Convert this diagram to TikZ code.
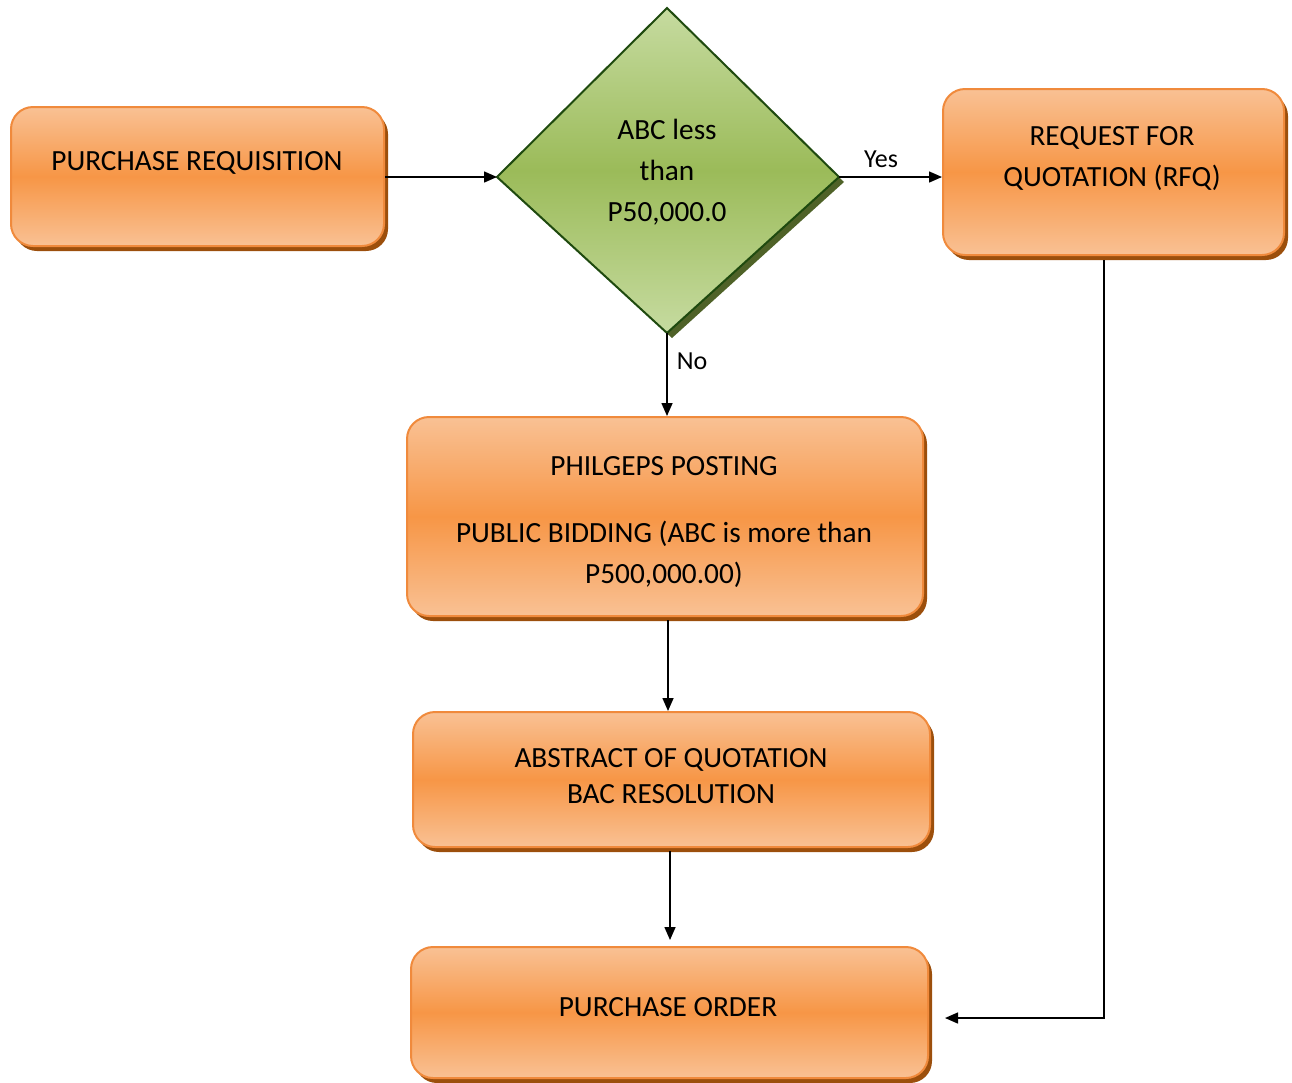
\documentclass[tikz,border=0pt]{standalone}
\usepackage{fontspec}
\setmainfont{Carlito}
\usetikzlibrary{shadows,arrows.meta,calc}
\definecolor{orlight}{HTML}{F9C194}
\definecolor{ormid}{HTML}{F79646}
\definecolor{orborder}{HTML}{F08A3C}
\definecolor{orshadow}{HTML}{9C4F0C}
\definecolor{grlight}{HTML}{C6DBA0}
\definecolor{grmid}{HTML}{9BBB59}
\definecolor{grborder}{HTML}{1F4A0F}
\definecolor{grshadow}{HTML}{4F6228}
\begin{document}
\begin{tikzpicture}[x=1pt,y=-1pt,
  box/.style={rectangle, rounded corners=22pt, draw=orborder, line width=2pt,
    top color=orlight, bottom color=orlight, middle color=ormid,
    drop shadow={shadow xshift=4pt, shadow yshift=-5pt, fill=orshadow, opacity=1},
    inner sep=0pt, anchor=north west},
  dia/.style={draw=grborder, line width=2pt, line join=miter,
    top color=grlight, bottom color=grlight, middle color=grmid,
    drop shadow={shadow xshift=5pt, shadow yshift=-5pt, fill=grshadow, opacity=1}},
  lbl/.style={font=\fontsize{29.3}{41}\selectfont, align=center, inner sep=0pt, text=black},
  small/.style={font=\fontsize{26}{30}\selectfont, inner sep=0pt, text=black},
  arr/.style={-{Triangle[length=13pt,width=11pt]}, line width=1.5pt, black}
]
\useasboundingbox (0,0) rectangle (1292,1082);

% boxes
\node[box, minimum width=373pt, minimum height=139pt] (pr) at (10,106) {};
\node[box, minimum width=341pt, minimum height=166pt] (rfq) at (942,88) {};
\node[box, minimum width=516pt, minimum height=199pt] (phil) at (406,416) {};
\node[box, minimum width=517pt, minimum height=135pt] (abs) at (412,711) {};
\node[box, minimum width=517pt, minimum height=131pt] (po) at (410,946) {};

% decision diamond
\coordinate (dt) at (667,8);
\coordinate (dr) at (839,177);
\coordinate (db) at (667,333);
\coordinate (dl) at (497,177);
\path[dia] (dt) -- (dr) -- (db) -- (dl) -- cycle;

% texts
\node[lbl] (prt) at (197,163) {PURCHASE REQUISITION};
\node[lbl] (dect) at (667,172.5) {ABC less\\than\\P50,000.0};
\node[lbl] (rfqt) at (1112,158.5) {REQUEST FOR\\QUOTATION (RFQ)};
\node[lbl] (philt) at (664,522) {PHILGEPS POSTING\\[26pt]PUBLIC BIDDING (ABC is more than\\P500,000.00)};
\node[lbl, font=\fontsize{29.3}{36}\selectfont] (abst) at (671,776) {ABSTRACT OF QUOTATION\\BAC RESOLUTION};
\node[lbl] (pot) at (668,1007) {PURCHASE ORDER};

% connectors
\draw[arr] (pr.east |- dl) -- (dl);
\draw[arr] (dr) -- (dr -| rfq.west);
\node[small] (yes) at (881,159) {Yes};
\draw[arr] (db) -- (db |- phil.north);
\node[small] (no) at (692,361) {No};
\coordinate (pa) at (668,620);
\draw[arr] (pa) -- (pa |- abs.north);
\coordinate (ap) at (670,851);
\coordinate (apin) at (670,940);
\draw[arr] (ap) -- (apin);
\coordinate (rs) at (1104,260);
\coordinate (poin) at (945,1018);
\draw[arr] (rs) |- (poin);
\end{tikzpicture}
\end{document}
